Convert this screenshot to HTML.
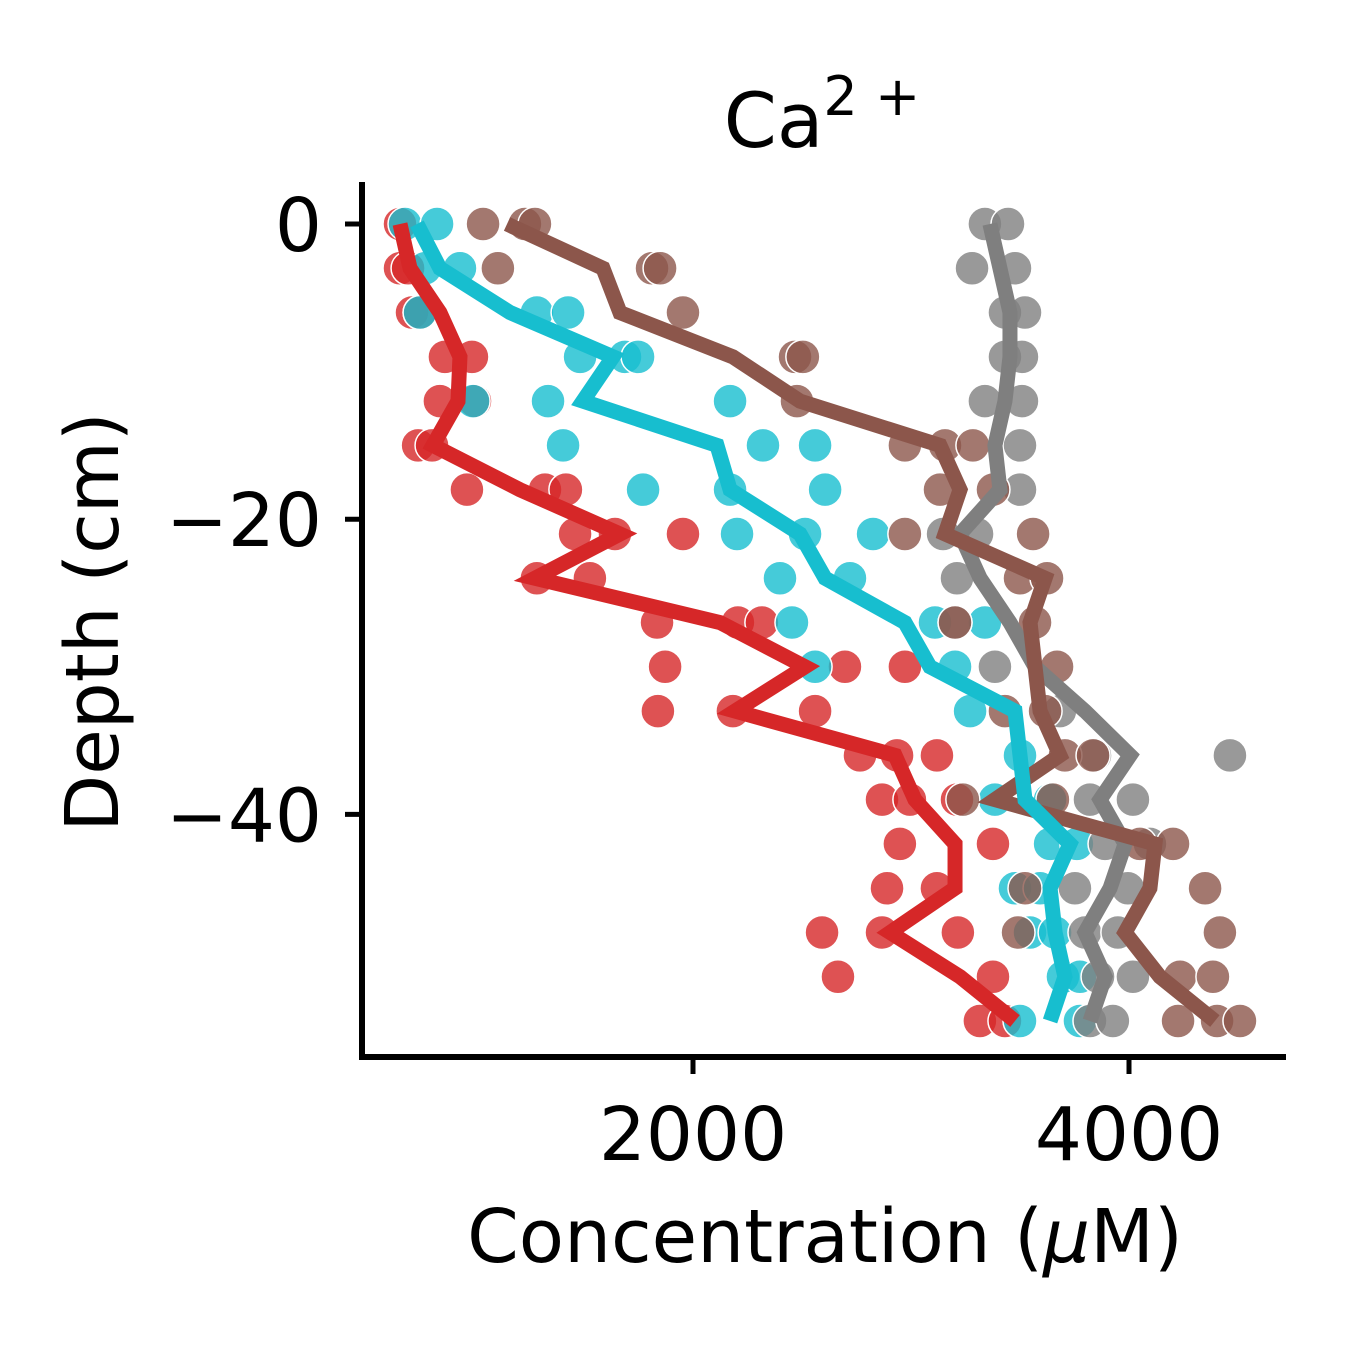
<!DOCTYPE html>
<html><head><meta charset="utf-8"><style>
body{margin:0;background:#fff}
svg text{font-family:"DejaVu Sans","Liberation Sans",sans-serif;fill:#000}
</style></head><body>
<svg id="chart" width="1350" height="1350" xmlns="http://www.w3.org/2000/svg">
<g id="pts"></g>
<g id="lines"></g>
<g id="axes"></g>
<text x="822" y="147" font-size="76" text-anchor="middle">Ca<tspan font-size="54" dy="-32">2 +</tspan></text>
<text x="825" y="1262" font-size="74" text-anchor="middle">Concentration (<tspan font-style="italic">μ</tspan>M)</text>
<text transform="translate(118,622) rotate(-90)" font-size="74" text-anchor="middle">Depth (cm)</text>
</svg>
<script>
const depths=[0,-3,-6,-9,-12,-15,-18,-21,-24,-27,-30,-33,-36,-39,-42,-45,-48,-51,-54];
const redLine=[656,702,839,931,922,807,1206,1665,1275,2124,2514,2193,2927,3018,3202,3202,2904,3225,3477];
const cyanLine=[734,839,1161,1633,1495,2110,2170,2491,2606,2972,3087,3477,3500,3523,3729,3638,3661,3706,3638];
const brownLine=[1147,1587,1665,2183,2491,3133,3225,3156,3615,3546,3569,3592,3683,3385,4119,4096,3982,4142,4394];
const grayLine=[3362,3408,3454,3454,3431,3385,3408,3225,3317,3454,3569,3798,4005,3867,3982,3913,3798,3890,3821];
const redPts=[[0,656],[-3,656],[-3,693],[-6,711],[-6,748],[-9,862],[-9,986],[-12,839],[-12,1000],[-15,739],[-15,803],[-18,963],[-18,1321],[-18,1417],[-21,1459],[-21,1642],[-21,1954],[-24,1284],[-24,1527],[-27,1835],[-27,2206],[-27,2316],[-30,1872],[-30,2697],[-30,2972],[-33,1839],[-33,2183],[-33,2560],[-36,2766],[-36,2936],[-36,3119],[-39,2867],[-39,2995],[-39,3211],[-42,2949],[-42,3376],[-45,2890],[-45,3119],[-48,2592],[-48,2867],[-48,3215],[-51,2665],[-51,3376],[-54,3316],[-54,3431]];
const cyanPts=[[0,679],[0,826],[-3,771],[-3,931],[-6,748],[-6,1284],[-6,1427],[-9,1482],[-9,1688],[-9,1748],[-12,991],[-12,1335],[-12,2170],[-15,1404],[-15,2321],[-15,2560],[-18,1771],[-18,2170],[-18,2606],[-21,2202],[-21,2514],[-21,2826],[-24,2399],[-24,2720],[-27,2454],[-27,3110],[-27,3339],[-30,2560],[-30,3202],[-33,3271],[-36,3500],[-39,3385],[-39,3638],[-42,3638],[-42,3761],[-45,3477],[-45,3592],[-48,3546],[-48,3661],[-51,3697],[-51,3775],[-54,3500],[-54,3775]];
const grayPts=[[0,3339],[0,3445],[-3,3280],[-3,3477],[-6,3431],[-6,3523],[-9,3431],[-9,3509],[-12,3339],[-12,3509],[-15,3500],[-18,3500],[-21,3147],[-21,3303],[-24,3211],[-27,3202],[-30,3385],[-33,3683],[-36,3844],[-36,4463],[-39,3821],[-39,4018],[-42,3890],[-42,4096],[-45,3752],[-45,3995],[-48,3798],[-48,3949],[-51,3858],[-51,4018],[-54,3821],[-54,3926]];
const brownPts=[[0,1037],[0,1229],[0,1275],[-3,1105],[-3,1812],[-3,1849],[-6,1954],[-9,2468],[-9,2504],[-12,2477],[-15,2972],[-15,3156],[-15,3284],[-18,3133],[-18,3376],[-21,2972],[-21,3560],[-24,3500],[-24,3624],[-27,3202],[-27,3569],[-30,3670],[-33,3431],[-33,3615],[-36,3706],[-36,3835],[-39,3238],[-39,3651],[-42,4050],[-42,4202],[-45,3523],[-45,4349],[-48,3491],[-48,4417],[-51,4234],[-51,4385],[-54,4225],[-54,4404],[-54,4509]];
const xTicks=[2000,4000];
const yTicks=[0,-20,-40];
const X=v=>257+v*0.218, Y=d=>224-d*14.76;
const NS='http://www.w3.org/2000/svg';
function mk(tag,parent,attrs){const e=document.createElementNS(NS,tag);for(const k in attrs)e.setAttribute(k,attrs[k]);parent.appendChild(e);return e;}
const pts=document.getElementById('pts'), lines=document.getElementById('lines'), axes=document.getElementById('axes');
[['red',redPts,'#d62728'],['cyan',cyanPts,'#17becf'],['gray',grayPts,'#7f7f7f'],['brown',brownPts,'#8c564b']].forEach(([n,arr,c])=>{
 arr.forEach(p=>{const e=mk('circle',pts,{cx:X(p[1]),cy:Y(p[0]),r:17,fill:c,'fill-opacity':0.8,stroke:'#fff','stroke-width':1.5});
 
 });
});
[['gray',grayLine,'#7f7f7f'],['brown',brownLine,'#8c564b'],['cyan',cyanLine,'#17becf'],['red',redLine,'#d62728']].forEach(([n,arr,c])=>{
 const e=mk('polyline',lines,{points:arr.map((v,i)=>X(v)+','+Y(depths[i])).join(' '),fill:'none',stroke:c,'stroke-width':15,'stroke-linejoin':'miter'});
 
 
});
let e=mk('line',axes,{x1:362,y1:182,x2:362,y2:1060,stroke:'#000','stroke-width':6});


e=mk('line',axes,{x1:359,y1:1057,x2:1286,y2:1057,stroke:'#000','stroke-width':6});


yTicks.forEach(t=>{mk('line',axes,{x1:345,y1:Y(t),x2:362,y2:Y(t),stroke:'#000','stroke-width':5});
 const tx=mk('text',axes,{x:322,y:Y(t)+27,'font-size':74,'text-anchor':'end'});tx.textContent=String(t).replace('-','−');
 
 });
xTicks.forEach(t=>{mk('line',axes,{x1:X(t),y1:1057,x2:X(t),y2:1074,stroke:'#000','stroke-width':5});
 const tx=mk('text',axes,{x:X(t),y:1160,'font-size':74,'text-anchor':'middle'});tx.textContent=t;
 
 });
</script>
</body></html>
